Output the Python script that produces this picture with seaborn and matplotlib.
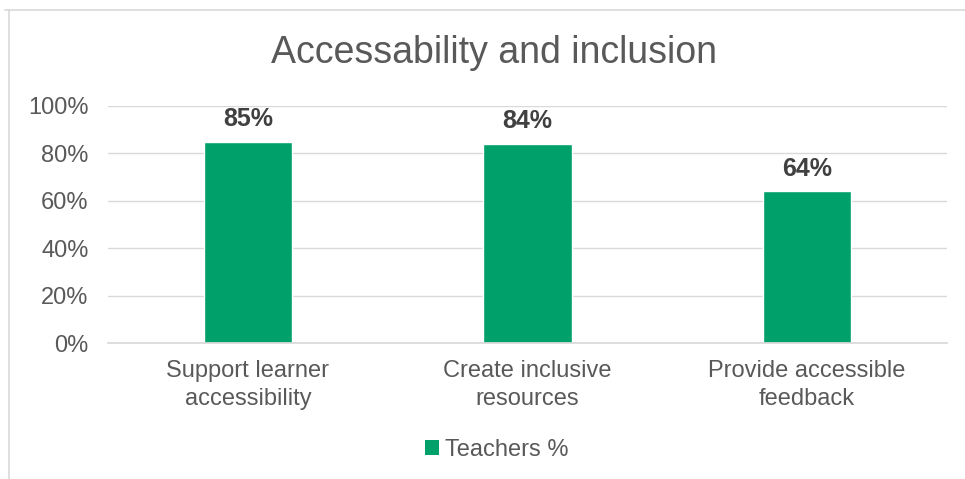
import matplotlib
matplotlib.use("Agg")
import matplotlib.pyplot as plt
from matplotlib.lines import Line2D
from matplotlib.patches import Patch
from matplotlib.ticker import PercentFormatter
import seaborn as sns
import pandas as pd

categories = ["Support learner\naccessibility", "Create inclusive\nresources", "Provide accessible\nfeedback"]
teachers_pct = [85, 84, 64]
series_name = "Teachers %"
title = "Accessability and inclusion"

sns.set_theme(style="white")
plt.rcParams["font.family"] = ["Liberation Sans", "DejaVu Sans"]

GREEN = "#00a06a"
TEXT = "#595959"
GRID = "#d9d9d9"

df = pd.DataFrame({"category": categories, "value": teachers_pct})

fig = plt.figure(figsize=(9.65, 4.79), dpi=100)
ax = fig.add_axes([108 / 965, 1 - 343 / 479, (947 - 108) / 965, (343 - 106) / 479])

sns.barplot(data=df, x="category", y="value", color=GREEN, width=0.315,
            saturation=1, ax=ax)

ax.set_ylim(0, 100)
ax.set_xlim(-0.5, 2.5)
ax.set_yticks(range(0, 101, 20))
ax.yaxis.set_major_formatter(PercentFormatter(decimals=0))
ax.grid(axis="y", color=GRID, linewidth=1)
ax.set_axisbelow(True)
for s in ["top", "right", "left"]:
    ax.spines[s].set_visible(False)
ax.spines["bottom"].set_color(GRID)
ax.set_xlabel("")
ax.set_ylabel("")
ax.tick_params(axis="both", length=0, labelsize=17, labelcolor=TEXT)
ax.tick_params(axis="y", pad=14)
ax.tick_params(axis="x", pad=12)
for lbl in ax.get_xticklabels():
    lbl.set_linespacing(1.35)

for i, v in enumerate(teachers_pct):
    ax.text(i, v + 4.5, f"{v}%", ha="center", va="bottom", fontsize=18,
            fontweight="bold", color="#404040")

fig.text(0.512, 1 - 53 / 479, title, ha="center", va="center",
         fontsize=27, color=TEXT)

handle = Patch(facecolor=GREEN, edgecolor="none")
fig.legend([handle], [series_name], loc="center", bbox_to_anchor=(0.515, 1 - 450 / 479),
           frameon=False, fontsize=17, labelcolor=TEXT, handlelength=0.6,
           handleheight=0.6, handletextpad=0.25)

# chart frame (left and top edges)
fig.add_artist(Line2D([9 / 965, 9 / 965], [0, 1 - 10 / 479], color=GRID, lw=1.2,
                      transform=fig.transFigure))
fig.add_artist(Line2D([5 / 965, 1], [1 - 10 / 479, 1 - 10 / 479], color=GRID, lw=1.2,
                      transform=fig.transFigure))

fig.savefig("out.png", dpi=100)
